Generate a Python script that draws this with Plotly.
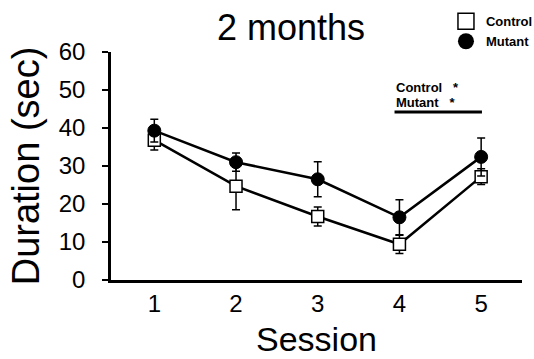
import plotly.graph_objects as go

sessions = [1, 2, 3, 4, 5]
session_labels = ["1", "2", "3", "4", "5"]
control_mean = [36.8, 24.7, 16.7, 9.4, 27.2]
control_err = [2.6, 6.2, 2.5, 2.4, 2.1]
mutant_mean = [39.3, 31.0, 26.5, 16.5, 32.4]
mutant_err = [3.0, 2.4, 4.6, 4.6, 5.0]
y_ticks = [0, 10, 20, 30, 40, 50, 60]
sig_x = [3.94, 5.01]
sig_y = 44.2
sig_labels = ["Control   *", "Mutant   *"]

FONT = "Liberation Sans, Arial, Helvetica, sans-serif"

fig = go.Figure()

fig.add_trace(go.Scatter(
    x=sessions, y=control_mean, mode="lines+markers", name="Control",
    showlegend=False,
    line=dict(color="black", width=2.5),
    marker=dict(symbol="square", size=12, color="white",
                line=dict(color="black", width=1.5)),
    error_y=dict(type="data", array=control_err, visible=True,
                 color="black", thickness=1.5, width=4),
))
fig.add_trace(go.Scatter(
    x=sessions, y=mutant_mean, mode="lines+markers", name="Mutant",
    showlegend=False,
    line=dict(color="black", width=2.5),
    marker=dict(symbol="circle", size=13, color="black",
                line=dict(color="black", width=1)),
    error_y=dict(type="data", array=mutant_err, visible=True,
                 color="black", thickness=1.5, width=4),
))
# legend entries (markers only)
fig.add_trace(go.Scatter(
    x=[None], y=[None], mode="markers", name="Control",
    marker=dict(symbol="square", size=18, color="white",
                line=dict(color="black", width=1.5)),
))
fig.add_trace(go.Scatter(
    x=[None], y=[None], mode="markers", name="Mutant",
    marker=dict(symbol="circle", size=18, color="black"),
))

# significance bar
fig.add_shape(type="line", xref="x", yref="y",
              x0=sig_x[0], x1=sig_x[1], y0=sig_y, y1=sig_y,
              line=dict(color="black", width=3))
fig.add_annotation(xref="x", yref="y", x=sig_x[0] - 0.01, y=sig_y + 6.5,
                   text="<b>" + sig_labels[0] + "</b>", showarrow=False,
                   xanchor="left", yanchor="middle",
                   font=dict(family=FONT, size=13, color="black"))
fig.add_annotation(xref="x", yref="y", x=sig_x[0] - 0.01, y=sig_y + 2.6,
                   text="<b>" + sig_labels[1] + "</b>", showarrow=False,
                   xanchor="left", yanchor="middle",
                   font=dict(family=FONT, size=13, color="black"))

fig.update_layout(
    width=534, height=359,
    margin=dict(l=111, r=12, t=52, b=79, autoexpand=False),
    paper_bgcolor="white", plot_bgcolor="white",
    font=dict(family=FONT, color="black"),
    title=dict(text="2 months", x=0.545, xanchor="center",
               y=0.925, yanchor="middle",
               font=dict(family=FONT, size=36, color="black")),
    legend=dict(x=0.815, y=1.2, xanchor="left", yanchor="top",
                bgcolor="rgba(0,0,0,0)",
                font=dict(family=FONT, size=13, color="black", weight="bold"),
                itemwidth=30, tracegroupgap=0),
    xaxis=dict(range=[0.47, 5.5], tickmode="array", tickvals=sessions,
               ticktext=session_labels, showline=True, linecolor="black",
               linewidth=2.5, ticks="", showgrid=False, zeroline=False,
               automargin=False,
               tickfont=dict(family=FONT, size=24, color="black"),
               title=dict(text="Session", standoff=12,
                          font=dict(family=FONT, size=34, color="black"))),
    yaxis=dict(range=[0, 60], tickmode="array", tickvals=y_ticks,
               showline=True, linecolor="black", linewidth=2.5,
               ticks="outside", ticklen=6, tickwidth=2, tickcolor="black",
               ticklabelstandoff=12, automargin=False,
               showgrid=False, zeroline=False,
               tickfont=dict(family=FONT, size=24, color="black"),
               title=dict(text="Duration (sec)", standoff=8,
                          font=dict(family=FONT, size=38, color="black"))),
)

fig.write_html("out.html", config={"displayModeBar": False},
               post_script="document.body.style.margin='0';")
